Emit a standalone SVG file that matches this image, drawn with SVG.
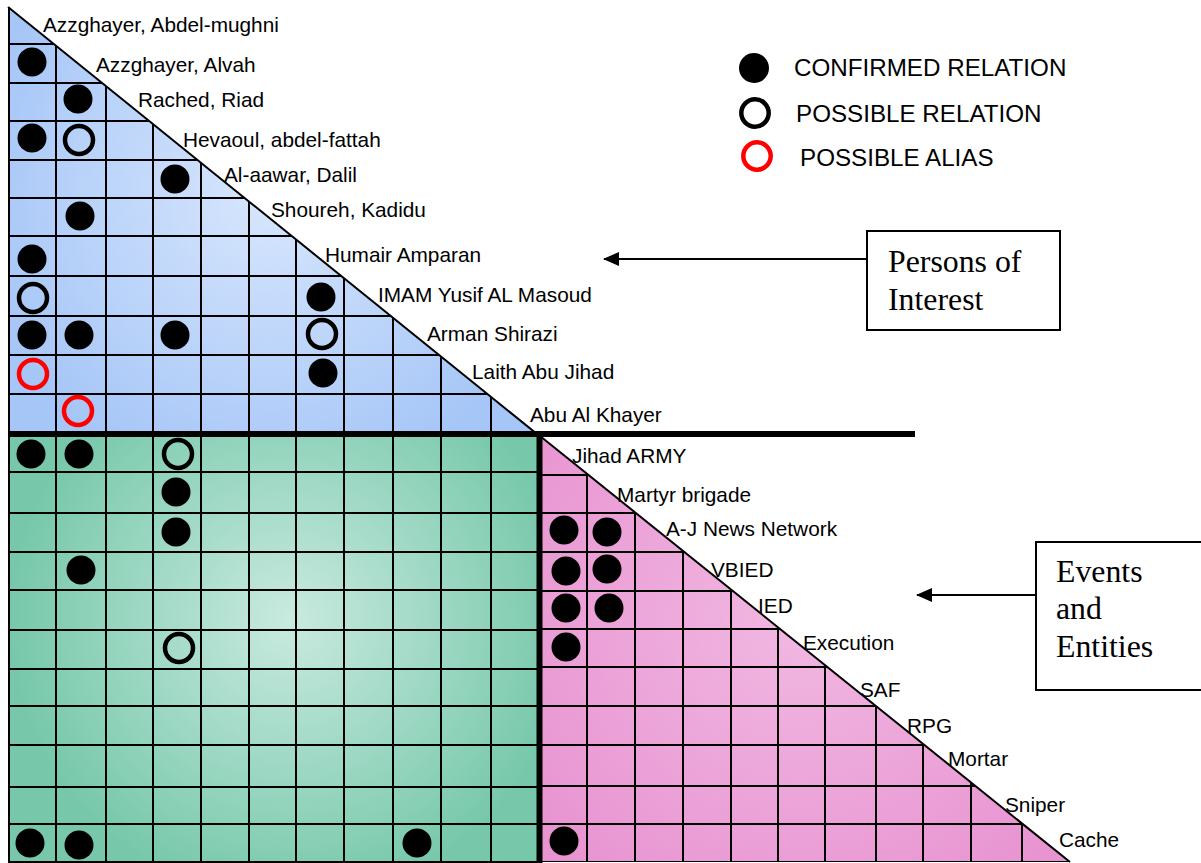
<svg xmlns="http://www.w3.org/2000/svg" width="1201" height="863" viewBox="0 0 1201 863">
  <style>
    .lbl { font-family: "Liberation Sans", Arial, sans-serif; font-size: 20.8px; fill: #000; }
    .leg { font-family: "Liberation Sans", Arial, sans-serif; font-size: 24.2px; fill: #000; }
    .box { fill: #fff; stroke: #000; stroke-width: 2; }
    .boxtxt { font-family: "Liberation Serif", "Times New Roman", serif; font-size: 31.8px; fill: #000; }
    .grid { fill: none; stroke: #000; stroke-width: 2; }
    .dot { fill: #000; }
    .ring { fill: none; stroke: #000; stroke-width: 4.5; }
    .alias { fill: none; stroke: #f00; stroke-width: 4.5; }
    .thick { stroke: #000; stroke-width: 6; }
    .arrow { stroke: #000; stroke-width: 2; fill: none; }
  </style>
  <defs>
    <radialGradient id="blueFill" gradientUnits="userSpaceOnUse" cx="270" cy="190" r="300">
      <stop offset="0" stop-color="#d8e7fd"/>
      <stop offset="1" stop-color="#a6c6f7"/>
    </radialGradient>
    <radialGradient id="greenFill" gradientUnits="userSpaceOnUse" cx="290" cy="620" r="280">
      <stop offset="0" stop-color="#c9eadf"/>
      <stop offset="1" stop-color="#77c8ab"/>
    </radialGradient>
    <radialGradient id="pinkFill" gradientUnits="userSpaceOnUse" cx="800" cy="620" r="330">
      <stop offset="0" stop-color="#f1b8e2"/>
      <stop offset="1" stop-color="#e894d1"/>
    </radialGradient>
    <clipPath id="clipUpper">
      <polygon points="8,7 537,434 8,434"/>
    </clipPath>
    <clipPath id="clipPink">
      <polygon points="540,436 1070,862 540,862"/>
    </clipPath>
    <marker id="head" viewBox="0 0 16 14" refX="15" refY="7" markerWidth="16" markerHeight="14" markerUnits="userSpaceOnUse" orient="auto">
      <path d="M0,0 L16,7 L0,14 Z" fill="#000"/>
    </marker>
  </defs>

  <rect width="1201" height="863" fill="#fff"/>

  <!-- Persons of interest: lower-triangular matrix -->
  <g id="persons-matrix">
    <polygon points="8,7 537,434 8,434" fill="url(#blueFill)"/>
    <g clip-path="url(#clipUpper)">
      <path class="grid" d="M8 44H540M8 83H540M8 121H540M8 160H540M8 198H540M8 236H540M8 276H540M8 316H540M8 355H540M8 394H540
        M56 0V434M106 0V434M153 0V434M201 0V434M249 0V434M296 0V434M344 0V434M393 0V434M441 0V434M491 0V434"/>
    </g>
    <line x1="8" y1="7" x2="537" y2="434" stroke="#000" stroke-width="2"/>
    <g id="persons-marks">
      <circle class="dot" cx="32" cy="62" r="14.5"/>
      <circle class="dot" cx="78" cy="99" r="14.5"/>
      <circle class="dot" cx="32" cy="138" r="14.5"/>
      <circle class="ring" cx="79" cy="140" r="14"/>
      <circle class="dot" cx="175" cy="179" r="14.5"/>
      <circle class="dot" cx="80" cy="216" r="14.5"/>
      <circle class="dot" cx="32" cy="259" r="14.5"/>
      <circle class="ring" cx="33" cy="298" r="14"/>
      <circle class="dot" cx="321" cy="297" r="14.5"/>
      <circle class="dot" cx="32" cy="335" r="14.5"/>
      <circle class="dot" cx="79" cy="335" r="14.5"/>
      <circle class="dot" cx="175" cy="335" r="14.5"/>
      <circle class="ring" cx="322" cy="334" r="14"/>
      <circle class="alias" cx="33" cy="374" r="14"/>
      <circle class="dot" cx="323" cy="373" r="14.5"/>
      <circle class="alias" cx="78" cy="411" r="14"/>
    </g>
    <g id="persons-labels">
      <text class="lbl" x="43" y="32">Azzghayer, Abdel-mughni</text>
      <text class="lbl" x="96" y="72">Azzghayer, Alvah</text>
      <text class="lbl" x="138" y="107">Rached, Riad</text>
      <text class="lbl" x="183" y="147">Hevaoul, abdel-fattah</text>
      <text class="lbl" x="224" y="182">Al-aawar, Dalil</text>
      <text class="lbl" x="271" y="217">Shoureh, Kadidu</text>
      <text class="lbl" x="325" y="262">Humair Amparan</text>
      <text class="lbl" x="378" y="302">IMAM Yusif AL Masoud</text>
      <text class="lbl" x="427" y="341">Arman Shirazi</text>
      <text class="lbl" x="472" y="379">Laith Abu Jihad</text>
      <text class="lbl" x="530" y="422">Abu Al Khayer</text>
    </g>
  </g>

  <!-- Persons x events cross matrix -->
  <g id="cross-matrix">
    <rect x="9" y="434" width="530" height="428" fill="url(#greenFill)"/>
    <path class="grid" d="M9 472H539M9 513H539M9 552H539M9 590H539M9 630H539M9 669H539M9 706H539M9 745H539M9 787H539M9 824H539M9 862H539
      M56 434V862M106 434V862M153 434V862M201 434V862M249 434V862M296 434V862M344 434V862M393 434V862M441 434V862M491 434V862"/>
    <g id="cross-marks">
      <circle class="dot" cx="31" cy="454" r="14.5"/>
      <circle class="dot" cx="79" cy="454" r="14.5"/>
      <circle class="ring" cx="178" cy="454" r="14"/>
      <circle class="dot" cx="176" cy="492" r="14.5"/>
      <circle class="dot" cx="176" cy="532" r="14.5"/>
      <circle class="dot" cx="81" cy="570" r="14.5"/>
      <circle class="ring" cx="179" cy="648" r="14"/>
      <circle class="dot" cx="30" cy="843" r="14.5"/>
      <circle class="dot" cx="79" cy="845" r="14.5"/>
      <circle class="dot" cx="417" cy="843" r="14.5"/>
    </g>
  </g>

  <!-- Events and entities: lower-triangular matrix -->
  <g id="events-matrix">
    <polygon points="540,436 1070,862 540,862" fill="url(#pinkFill)"/>
    <g clip-path="url(#clipPink)">
      <path class="grid" d="M540 475H1080M540 513H1080M540 552H1080M540 591H1080M540 629H1080M540 667H1080M540 706H1080M540 745H1080M540 786H1080M540 824H1080M540 862H1080
        M587 430V862M635 430V862M683 430V862M731 430V862M778 430V862M825 430V862M876 430V862M923 430V862M971 430V862M1022 430V862"/>
    </g>
    <line x1="540" y1="436" x2="1070" y2="862" stroke="#000" stroke-width="2"/>
    <g id="events-marks">
      <circle class="dot" cx="564" cy="530" r="14.5"/>
      <circle class="dot" cx="607" cy="532" r="14.5"/>
      <circle class="dot" cx="566" cy="571" r="14.5"/>
      <circle class="dot" cx="607" cy="569" r="14.5"/>
      <circle class="dot" cx="566" cy="608" r="14.5"/>
      <circle class="dot" cx="609" cy="608" r="14.5"/>
      <circle class="dot" cx="566" cy="647" r="14.5"/>
      <circle class="dot" cx="564" cy="841" r="14.5"/>
    </g>
    <g id="events-labels">
      <text class="lbl" x="572" y="463">Jihad ARMY</text>
      <text class="lbl" x="617" y="502">Martyr brigade</text>
      <text class="lbl" x="666" y="536">A-J News Network</text>
      <text class="lbl" x="711" y="577">VBIED</text>
      <text class="lbl" x="758" y="613">IED</text>
      <text class="lbl" x="803" y="650">Execution</text>
      <text class="lbl" x="860" y="697">SAF</text>
      <text class="lbl" x="907" y="733">RPG</text>
      <text class="lbl" x="948" y="766">Mortar</text>
      <text class="lbl" x="1005" y="812">Sniper</text>
      <text class="lbl" x="1059" y="847">Cache</text>
    </g>
  </g>

  <!-- frame and dividers -->
  <g id="dividers">
    <line x1="9" y1="7" x2="9" y2="863" stroke="#000" stroke-width="2"/>
    <line class="thick" x1="9" y1="434" x2="915" y2="434"/>
    <line class="thick" x1="539.5" y1="431" x2="539.5" y2="863"/>
  </g>

  <!-- legend -->
  <g id="legend">
    <circle class="dot" cx="754" cy="68" r="15"/>
    <text class="leg" x="794" y="76">CONFIRMED RELATION</text>
    <circle class="ring" cx="755" cy="113" r="13.7"/>
    <text class="leg" x="796" y="122">POSSIBLE RELATION</text>
    <circle class="alias" cx="757" cy="156" r="13.7"/>
    <text class="leg" x="800" y="166">POSSIBLE ALIAS</text>
  </g>

  <!-- callout boxes -->
  <g id="persons-box">
    <rect class="box" x="867" y="231" width="193" height="99"/>
    <text class="boxtxt" x="888" y="272">Persons of</text>
    <text class="boxtxt" x="888" y="310">Interest</text>
  </g>
  <g id="events-box">
    <rect class="box" x="1036" y="542" width="170" height="148"/>
    <text class="boxtxt" x="1056" y="582">Events</text>
    <text class="boxtxt" x="1056" y="619">and</text>
    <text class="boxtxt" x="1056" y="657">Entities</text>
  </g>

  <g id="connectors">
    <line class="arrow" x1="867" y1="259" x2="604" y2="259" marker-end="url(#head)"/>
    <line class="arrow" x1="1036" y1="595" x2="917" y2="595" marker-end="url(#head)"/>
  </g>
</svg>
